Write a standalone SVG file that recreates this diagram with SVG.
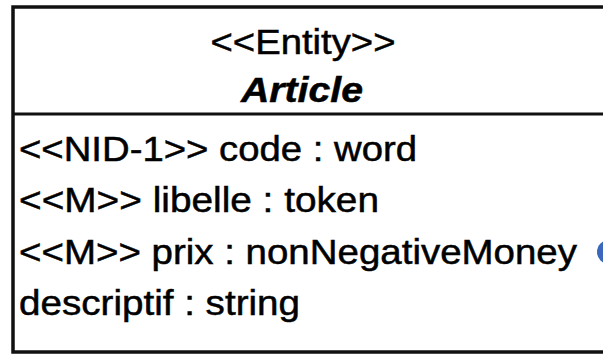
<svg xmlns="http://www.w3.org/2000/svg" width="603" height="354" viewBox="0 0 603 354">
  <style>
    .box { fill: #ffffff; stroke: #111111; stroke-width: 3.5; }
    .div { stroke: #111111; stroke-width: 3; }
    .t { font-family: "Liberation Sans", Arial, sans-serif; font-size: 35px; fill: #000000; stroke: #000000; stroke-width: 0.5; }
    .title { font-weight: bold; font-style: italic; }
  </style>
  <rect width="603" height="354" fill="#ffffff"/>
  <g id="connectors"></g>
  <g id="article">
    <rect class="box" x="13" y="7" width="610" height="345"/>
    <line class="div" x1="13" y1="114" x2="603" y2="114"/>
    <text class="t" x="303" y="54" text-anchor="middle" textLength="185" lengthAdjust="spacingAndGlyphs">&lt;&lt;Entity&gt;&gt;</text>
    <text class="t title" x="302" y="102" text-anchor="middle" textLength="122" lengthAdjust="spacingAndGlyphs">Article</text>
    <text class="t" x="19" y="161" textLength="398" lengthAdjust="spacingAndGlyphs">&lt;&lt;NID-1&gt;&gt; code : word</text>
    <text class="t" x="19" y="212" textLength="360" lengthAdjust="spacingAndGlyphs">&lt;&lt;M&gt;&gt; libelle : token</text>
    <text class="t" x="19" y="264" textLength="558" lengthAdjust="spacingAndGlyphs">&lt;&lt;M&gt;&gt; prix : nonNegativeMoney</text>
    <text class="t" x="19" y="315" textLength="281" lengthAdjust="spacingAndGlyphs">descriptif : string</text>
  </g>
  <g id="marker">
    <circle cx="609" cy="252" r="12" fill="#3b68bd"/>
  </g>
</svg>
